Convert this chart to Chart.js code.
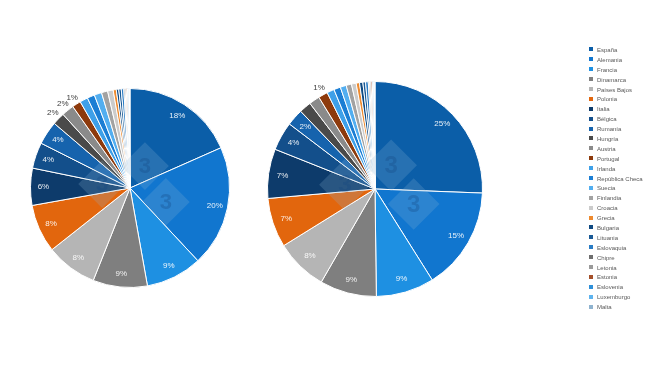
<!DOCTYPE html>
<html lang="es">
<head>
<meta charset="UTF-8">
<title>Distribución por país</title>
<script src="https://cdn.jsdelivr.net/npm/chart.js"></script>
<style>
  body { margin: 0; background: #fff; }
  .wrap { position: relative; width: 650px; height: 366px; overflow: hidden; }
  .wrap canvas { position: absolute; left: 0; top: 0; }
  #legend { position: absolute; left: 589px; top: 46px; font: 6px "Liberation Sans", Arial, sans-serif; color: #595959; }
  #legend div { height: 9.9px; line-height: 9.9px; white-space: nowrap; }
  #legend span { display: inline-block; width: 4px; height: 4px; margin-right: 4px; vertical-align: middle; position: relative; top: -1px; }
</style>
</head>
<body>
<div class="wrap">
  <canvas id="pie1" width="650" height="366"></canvas>
  <canvas id="pie2" width="650" height="366"></canvas>
  <div id="legend"></div>
</div>
<script>
const countries = ["España", "Alemania", "Francia", "Dinamarca", "Países Bajos", "Polonia", "Italia",
  "Bélgica", "Rumanía", "Hungría", "Austria", "Portugal", "Irlanda", "República Checa", "Suecia",
  "Finlandia", "Croacia", "Grecia", "Bulgaria", "Lituania", "Eslovaquia", "Chipre", "Letonia",
  "Estonia", "Eslovenia", "Luxemburgo", "Malta"];

const colors = ["#0b5ea8", "#1176cf", "#1e90e2", "#7f7f7f", "#b5b5b5", "#e2660d", "#0d3b6b",
  "#134f8b", "#1663ad", "#4a4a4a", "#8a8a8a", "#8d3a0c", "#3ea0e8", "#1b7ed4", "#52aef0",
  "#a2a2a2", "#cbcbcb", "#ee8a2e", "#0f4a82", "#1a5a96", "#2a7cc4", "#6e6e6e", "#9a9a9a",
  "#a5502a", "#2e8fd8", "#5db3ee", "#8fb3cf"];

// share (%) per country, left pie
const pie1Values = [18.3, 19.6, 9.1, 8.8, 8.3, 7.8, 6.0, 4.2, 3.8, 2.0, 2.0, 1.4, 1.3, 1.2, 1.2,
  1.0, 0.9, 0.5, 0.4, 0.4, 0.4, 0.2, 0.2, 0.2, 0.2, 0.1, 0.1];
const pie1Labels = ["18%", "20%", "9%", "9%", "8%", "8%", "6%", "4%", "4%", "2%", "2%", "1%"];

// share (%) per country, right pie
const pie2Values = [25.5, 15.4, 8.7, 8.5, 7.8, 7.4, 7.4, 4.3, 2.5, 1.8, 1.6, 1.4, 1.1, 1.0, 0.9,
  0.8, 0.7, 0.5, 0.5, 0.4, 0.4, 0.2, 0.2, 0.2, 0.2, 0.1, 0.1];
const pie2Labels = ["25%", "15%", "9%", "9%", "8%", "7%", "7%", "4%", "2%", null, null, "1%"];

// labels drawn outside the slice (by index)
const pie1Outside = [9, 10, 11];
const pie2Outside = [11];

const sliceLabels = {
  id: "sliceLabels",
  afterDatasetsDraw(chart, args, opts) {
    const ctx = chart.ctx;
    const arcs = chart.getDatasetMeta(0).data;
    ctx.save();
    ctx.font = '8px "Liberation Sans", Arial, sans-serif';
    ctx.textAlign = "center";
    ctx.textBaseline = "middle";
    arcs.forEach((arc, i) => {
      const txt = opts.labels[i];
      if (!txt) return;
      const p = arc.getProps(["x", "y", "startAngle", "endAngle", "outerRadius"], true);
      const mid = (p.startAngle + p.endAngle) / 2;
      const out = opts.outside.includes(i);
      const r = out ? p.outerRadius + 8 : p.outerRadius * 0.87;
      ctx.fillStyle = out ? "#404040" : "rgba(255,255,255,0.9)";
      ctx.fillText(txt, p.x + Math.cos(mid) * r, p.y + Math.sin(mid) * r);
    });
    ctx.restore();
  }
};

// faint logo watermark over the pie centre
const watermark = {
  id: "watermark",
  afterDatasetsDraw(chart) {
    const arc = chart.getDatasetMeta(0).data[0];
    if (!arc) return;
    const ctx = chart.ctx;
    const s = arc.outerRadius / 100;
    const marks = [[15, -22], [36, 14], [-28, -4]];
    ctx.save();
    marks.forEach(([dx, dy]) => {
      const cx = arc.x + dx * s, cy = arc.y + dy * s, h = 24 * s;
      ctx.beginPath();
      ctx.moveTo(cx, cy - h); ctx.lineTo(cx + h, cy); ctx.lineTo(cx, cy + h); ctx.lineTo(cx - h, cy);
      ctx.closePath();
      ctx.fillStyle = "rgba(140,180,215,0.22)";
      ctx.fill();
      ctx.fillStyle = "rgba(20,70,130,0.30)";
      ctx.font = "bold " + Math.round(22 * s) + 'px "Liberation Sans", Arial, sans-serif';
      ctx.textAlign = "center";
      ctx.textBaseline = "middle";
      ctx.fillText("3", cx, cy + 1);
    });
    ctx.restore();
  }
};

function makePie(id, values, labels, outside, padding) {
  new Chart(document.getElementById(id), {
    type: "pie",
    data: {
      labels: countries,
      datasets: [{ data: values, backgroundColor: colors, borderColor: "#ffffff", borderWidth: 1 }]
    },
    options: {
      responsive: false,
      animation: false,
      layout: { padding: padding },
      plugins: {
        legend: { display: false },
        tooltip: { enabled: false },
        sliceLabels: { labels: labels, outside: outside }
      }
    },
    plugins: [watermark, sliceLabels]
  });
}

makePie("pie1", pie1Values, pie1Labels, pie1Outside, { left: 30, right: 420, top: 88, bottom: 78 });
makePie("pie2", pie2Values, pie2Labels, pie2Outside, { left: 267, right: 167, top: 80, bottom: 68 });

const legend = document.getElementById("legend");
countries.forEach((name, i) => {
  const row = document.createElement("div");
  row.innerHTML = '<span style="background:' + colors[i] + '"></span>' + name;
  legend.appendChild(row);
});
</script>
</body>
</html>
